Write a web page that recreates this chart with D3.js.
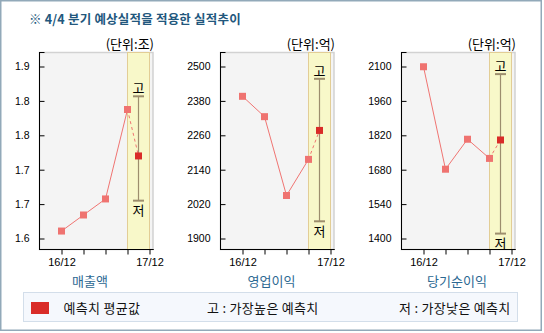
<!DOCTYPE html>
<html><head><meta charset="utf-8">
<script src="https://cdn.jsdelivr.net/npm/d3@7"></script>
<style>
html,body{margin:0;padding:0;background:#fff;}
svg{display:block;}
</style></head>
<body>
<script>
// ---- data ----
const title = "※ 4/4 분기 예상실적을 적용한 실적추이";
const categories = ["매출액", "영업이익", "당기순이익"];
const units = ["(단위:조)", "(단위:억)", "(단위:억)"];
const xLabels = ["16/12", "", "", "", "17/12"];
const actualSales = [1.613, 1.641, 1.669, 1.825];
const actualOp = [2396, 2325, 2050, 2176];
const actualNet = [2099, 1682, 1804, 1726];
const forecastAvg = [1.744, 2277, 1801];
const forecastHigh = [1.848, 2457, 2069];
const forecastLow = [1.666, 1960, 1420];
const yTicksSales = [1.6, 1.66, 1.72, 1.78, 1.84, 1.9];
const yTicksOp = [1900, 2020, 2140, 2260, 2380, 2500];
const yTicksNet = [1400, 1540, 1680, 1820, 1960, 2100];
const yLabelsSales = ["1.6", "1.7", "1.7", "1.8", "1.8", "1.9"];
const yLabelsOp = ["1900", "2020", "2140", "2260", "2380", "2500"];
const yLabelsNet = ["1400", "1540", "1680", "1820", "1960", "2100"];
const legendItems = ["예측치 평균값", "고 : 가장높은 예측치", "저 : 가장낮은 예측치"];

const actuals = [actualSales, actualOp, actualNet];
const yTicks = [yTicksSales, yTicksOp, yTicksNet];
const yLabels = [yLabelsSales, yLabelsOp, yLabelsNet];

// ---- style ----
const W = 544, H = 333;
const KR = "'Noto Sans CJK KR','Noto Sans',sans-serif";
const NUM = "'Liberation Sans',Arial,sans-serif";
const cLine = "#f07472", cActual = "#ef7370", cFore = "#d92c28";
const cBand = "#f8f8c9", cBandStroke = "#e2cd95", cRange = "#9d8e6d";
const catX = [90, 271.5, 457];

const svg = d3.select("body").append("svg").attr("width", W).attr("height", H);

svg.append("rect").attr("x", 0.75).attr("y", 0.75).attr("width", 540.5).attr("height", 329.5)
  .attr("fill", "#fff").attr("stroke", "#92a9b9").attr("stroke-width", 1.5);

svg.append("text").attr("x", 29).attr("y", 18).attr("dominant-baseline", "central")
  .attr("font-family", KR).attr("font-size", 12.5).attr("font-weight", "bold")
  .attr("letter-spacing", 0.2).attr("fill", "#22577d").text(title);

categories.forEach((cat, i) => {
  const off = i * 181;
  const g = svg.append("g");
  const x = d3.scaleLinear().domain([0, 4]).range([61.5 + off, 149.5 + off]);
  const tk = yTicks[i];
  const y = d3.scaleLinear().domain([tk[0], tk[tk.length - 1]]).range([238.5, 66.5]);
  const left = x(-1), right = x(4) + 3.5, top = 52.5, bottom = 249.5;

  // plot background
  g.append("rect").attr("x", left).attr("y", top).attr("width", right - left).attr("height", bottom - top)
    .attr("fill", "#f4f4f4").attr("stroke", "#d2d2d2").attr("stroke-width", 1.5);
  // forecast band
  g.append("rect").attr("x", x(3)).attr("y", top).attr("width", x(4) - x(3)).attr("height", bottom - top)
    .attr("fill", cBand).attr("stroke", cBandStroke).attr("stroke-width", 1);

  // axes
  const ya = d3.axisLeft(y).tickValues(tk).tickSize(-5).tickPadding(10)
    .tickFormat((d, j) => yLabels[i][j]);
  const yg = g.append("g").attr("transform", `translate(${left},0)`).call(ya);
  yg.select(".domain").remove();
  yg.selectAll("line").attr("stroke", "#000");
  yg.selectAll("text").attr("font-family", NUM).attr("font-size", 10.5).attr("fill", "#000");

  const xa = d3.axisBottom(x).tickValues([0, 1, 2, 3, 4]).tickSize(5).tickPadding(3.5)
    .tickFormat(d => xLabels[d]);
  const xg = g.append("g").attr("transform", `translate(0,${bottom})`).call(xa);
  xg.select(".domain").remove();
  xg.selectAll("line").attr("stroke", "#000");
  xg.selectAll("text").attr("font-family", NUM).attr("font-size", 11).attr("fill", "#000");

  g.append("line").attr("x1", left).attr("x2", left).attr("y1", top - 0.5).attr("y2", bottom + 0.5)
    .attr("stroke", "#000");
  g.append("line").attr("x1", left).attr("x2", left + 5).attr("y1", top).attr("y2", top).attr("stroke", "#000");
  g.append("line").attr("x1", left).attr("x2", right + 0.75).attr("y1", bottom).attr("y2", bottom)
    .attr("stroke", "#000");

  // unit
  g.append("text").attr("x", right + 1).attr("y", 43).attr("dominant-baseline", "central")
    .attr("text-anchor", "end").attr("font-family", KR).attr("font-size", 13).attr("fill", "#000")
    .text(units[i]);

  // range
  const fx = x(3.5);
  g.append("line").attr("x1", fx).attr("x2", fx).attr("y1", y(forecastHigh[i])).attr("y2", y(forecastLow[i]))
    .attr("stroke", cRange).attr("stroke-width", 1.2);
  [forecastHigh[i], forecastLow[i]].forEach(v => {
    g.append("line").attr("x1", fx - 5.5).attr("x2", fx + 5.5).attr("y1", y(v)).attr("y2", y(v))
      .attr("stroke", cRange).attr("stroke-width", 2);
  });
  g.append("text").attr("x", fx).attr("y", y(forecastHigh[i]) - 8.5).attr("text-anchor", "middle")
    .attr("dominant-baseline", "central").attr("font-family", KR).attr("font-size", 13).attr("fill", "#000").text("고");
  g.append("text").attr("x", fx).attr("y", y(forecastLow[i]) + 9).attr("text-anchor", "middle")
    .attr("dominant-baseline", "central").attr("font-family", KR).attr("font-size", 13).attr("fill", "#000").text("저");

  // lines
  const act = actuals[i];
  const line = d3.line().x((d, j) => x(j)).y(d => y(d));
  g.append("path").attr("d", line(act)).attr("fill", "none").attr("stroke", cLine).attr("stroke-width", 1);
  g.append("line").attr("x1", x(3)).attr("y1", y(act[3])).attr("x2", fx).attr("y2", y(forecastAvg[i]))
    .attr("stroke", cLine).attr("stroke-width", 1).attr("stroke-dasharray", "3,3");

  // markers
  g.selectAll(".m").data(act).enter().append("rect")
    .attr("x", (d, j) => x(j) - 3.5).attr("y", d => y(d) - 3.5).attr("width", 7).attr("height", 7)
    .attr("fill", cActual);
  g.append("rect").attr("x", fx - 3.5).attr("y", y(forecastAvg[i]) - 3.5).attr("width", 7).attr("height", 7)
    .attr("fill", cFore);

  // category label
  g.append("text").attr("x", catX[i]).attr("y", 280.5).attr("text-anchor", "middle")
    .attr("dominant-baseline", "central").attr("font-family", KR).attr("font-size", 13)
    .attr("fill", "#2c6892").text(cat);
});

// legend
svg.append("rect").attr("x", 23.5).attr("y", 292.5).attr("width", 494).attr("height", 29)
  .attr("fill", "#f5f8fd").attr("stroke", "#d3deea");
svg.append("rect").attr("x", 31).attr("y", 302).attr("width", 18).attr("height", 12).attr("fill", cFore);
const legX = [63.5, 207, 399];
legendItems.forEach((t, i) => {
  svg.append("text").attr("x", legX[i]).attr("y", 307.5).attr("dominant-baseline", "central")
    .attr("font-family", KR).attr("font-size", 13).attr("letter-spacing", 0.3).attr("fill", "#111").text(t);
});
</script>
</body></html>
